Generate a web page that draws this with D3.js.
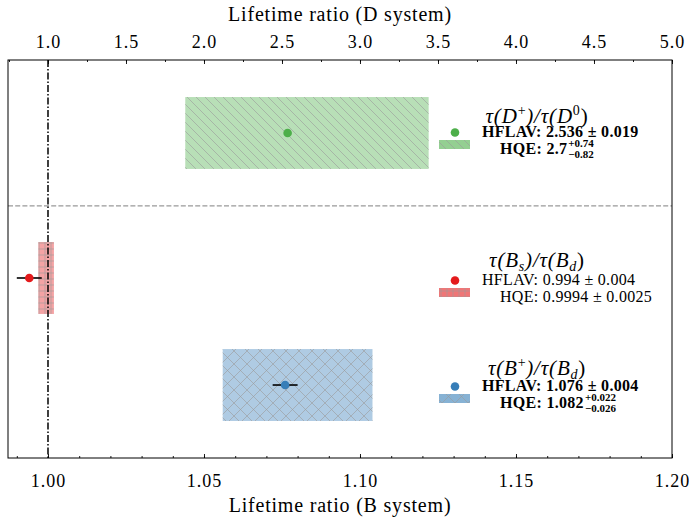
<!DOCTYPE html>
<html>
<head>
<meta charset="utf-8">
<script src="https://cdn.jsdelivr.net/npm/d3@7"></script>
<style>
body { margin: 0; background: #fff; }
svg { font-family: "Liberation Serif", serif; }
</style>
</head>
<body>
<svg id="chart" width="689" height="519"></svg>
<script>
// data (B+, Bs, D)
var groups = ["Bp", "Bs", "D"];
var hflavVal = [1.076, 0.994, 2.536];
var hflavErr = [0.004, 0.004, 0.019];
var hqeVal = [1.082, 0.9994, 2.7];
var hqeUp = [0.022, 0.0025, 0.74];
var hqeDown = [0.026, 0.0025, 0.82];
var hflavText = ["1.076 \u00b1 0.004", "0.994 \u00b1 0.004", "2.536 \u00b1 0.019"];
var hqeText = ["1.082", "0.9994 \u00b1 0.0025", "2.7"];
var hqeSup = ["+0.022", "", "+0.74"];
var hqeSub = ["\u22120.026", "", "\u22120.82"];
var bTicks = [1.00, 1.05, 1.10, 1.15, 1.20];
var dTicks = [1.0, 1.5, 2.0, 2.5, 3.0, 3.5, 4.0, 4.5, 5.0];

var colors = ["#377eb8", "#e41a1c", "#4daf4a"];
var hatch = ["cross", "plus", "back"];
var bold = [true, false, true];

var L = 8, R = 672, T = 60, B = 458;
var svg = d3.select("#chart");

var xB = d3.scaleLinear().domain([0.98718, 1.2]).range([L, R]);
// top axis is the bottom one stretched by 20 around 1
var xD = d3.scaleLinear().domain(xB.domain().map(function(v){ return 1 + (v - 1) * 20; })).range([L, R]);
var y = d3.scaleLinear().domain([-0.682, 3.037]).range([B, T]);
var rowPos = [0, 1, 2.355];
var halfH = 0.336;

function xs(i){ return i == 2 ? xD : xB; }

// hatch patterns
var defs = svg.append("defs");
function pat(id, size, paths){
    var p = defs.append("pattern").attr("id", id)
    .attr("patternUnits", "userSpaceOnUse")
    .attr("width", size).attr("height", size);
    paths.forEach(function(d){
        p.append("path").attr("d", d)
        .attr("stroke", "#9a9a9a").attr("stroke-width", 0.8)
        .attr("stroke-opacity", 0.75).attr("fill", "none");
    });
}
pat("back", 9, ["M0,0L9,9", "M-1,8L1,10", "M8,-1L10,1"]);
pat("plus", 6, ["M0,3H6", "M3,0V6"]);
pat("cross", 13, ["M0,0L13,13", "M0,13L13,0"]);

var plot = svg.append("g");

// HQE bands
groups.forEach(function(g, i){
    var x = xs(i);
    var x0 = x(hqeVal[i] - hqeDown[i]), x1 = x(hqeVal[i] + hqeUp[i]);
    var y0 = y(rowPos[i] + halfH), y1 = y(rowPos[i] - halfH);
    plot.append("rect").attr("x", x0).attr("y", y0)
    .attr("width", x1 - x0).attr("height", y1 - y0)
    .attr("fill", colors[i]).attr("fill-opacity", 0.4);
    plot.append("rect").attr("x", x0).attr("y", y0)
    .attr("width", x1 - x0).attr("height", y1 - y0)
    .attr("fill", "url(#" + hatch[i] + ")");
});

// separator and 1.0 reference line
plot.append("line").attr("x1", L).attr("x2", R)
.attr("y1", y(1.673)).attr("y2", y(1.673))
.attr("stroke", "#999").attr("stroke-width", 1.2)
.attr("stroke-dasharray", "5,2.2");
plot.append("line").attr("x1", xB(1)).attr("x2", xB(1))
.attr("y1", T).attr("y2", B)
.attr("stroke", "#000").attr("stroke-width", 1.5)
.attr("stroke-dasharray", "7,2,1.5,2");

// HFLAV points
groups.forEach(function(g, i){
    var x = xs(i), cy = y(rowPos[i]);
    plot.append("line")
    .attr("x1", x(hflavVal[i] - hflavErr[i])).attr("x2", x(hflavVal[i] + hflavErr[i]))
    .attr("y1", cy).attr("y2", cy)
    .attr("stroke", "#000").attr("stroke-width", 1.6);
    plot.append("circle").attr("cx", x(hflavVal[i])).attr("cy", cy)
    .attr("r", 4.3).attr("fill", colors[i]);
});

// frame
svg.append("rect").attr("x", L).attr("y", T).attr("width", R - L).attr("height", B - T)
.attr("fill", "none").attr("stroke", "#000").attr("stroke-width", 1);

// axes, ticks pointing inward
var bottomMin = svg.append("g").attr("transform", "translate(0," + B + ")")
.call(d3.axisBottom(xB).tickValues(d3.range(0.99, 1.2001, 0.01)).tickSize(-2).tickFormat(""));
bottomMin.select(".domain").remove();
var bottomMaj = svg.append("g").attr("transform", "translate(0," + B + ")")
.call(d3.axisBottom(xB).tickValues(bTicks).tickSize(-4).tickPadding(16).tickFormat(d3.format(".2f")));
bottomMaj.select(".domain").remove();

var topMin = svg.append("g").attr("transform", "translate(0," + T + ")")
.call(d3.axisTop(xD).tickValues(d3.range(0.75, 5.001, 0.25)).tickSize(-2).tickFormat(""));
topMin.select(".domain").remove();
var topMaj = svg.append("g").attr("transform", "translate(0," + T + ")")
.call(d3.axisTop(xD).tickValues(dTicks).tickSize(-4).tickPadding(12).tickFormat(d3.format(".1f")));
topMaj.select(".domain").remove();

svg.selectAll(".tick line").attr("stroke-width", 0.9);
svg.selectAll(".tick text").attr("font-family", "Liberation Serif").attr("font-size", 18)
.attr("letter-spacing", 1).attr("fill", "#000");

svg.append("text").attr("x", 340).attr("y", 21).attr("text-anchor", "middle")
.attr("font-size", 20).attr("letter-spacing", 0.8).text("Lifetime ratio (D system)");
svg.append("text").attr("x", 340).attr("y", 512).attr("text-anchor", "middle")
.attr("font-size", 20).attr("letter-spacing", 0.8).text("Lifetime ratio (B system)");

// legends
var legY = [391, 285, 137];
var titleY = [375, 267, 123];
// pieces of each title: text, style (i = italic, r = roman, sup, sub)
var titles = [
    [["\u03c4(", "i"], ["B", "i"], ["+", "sup"], [")/\u03c4(", "i"], ["B", "i"], ["d", "sub"], [")", "r"]],
    [["\u03c4(", "i"], ["B", "i"], ["s", "sub"], [")/\u03c4(", "i"], ["B", "i"], ["d", "sub"], [")", "r"]],
    [["\u03c4(", "i"], ["D", "i"], ["+", "sup"], [")/\u03c4(", "i"], ["D", "i"], ["0", "sup"], [")", "r"]]
];

groups.forEach(function(g, i){
    var lg = svg.append("g").attr("font-weight", bold[i] ? "bold" : "normal");
    var ty = legY[i];
    var t = lg.append("text").attr("x", 537).attr("y", titleY[i])
    .attr("text-anchor", "middle").attr("font-size", 21).attr("letter-spacing", 0.8)
    .attr("font-weight", "normal");
    var shift = 0;
    titles[i].forEach(function(p){
        var s = t.append("tspan").text(p[0]);
        var target = 0;
        if (p[1] == "sup") { s.attr("font-size", 14); target = -8; }
        else if (p[1] == "sub") { s.attr("font-size", 14).attr("font-style", "italic"); target = 4; }
        else if (p[1] == "i") s.attr("font-style", "italic");
        if (target != shift) { s.attr("dy", target - shift); shift = target; }
    });

    lg.append("circle").attr("cx", 455).attr("cy", ty - 4.5).attr("r", 4.3).attr("fill", colors[i]);
    lg.append("text").attr("x", 482).attr("y", ty).attr("font-size", 16).attr("letter-spacing", 0.3)
    .text("HFLAV: " + hflavText[i]);

    var py = ty + 17;
    lg.append("rect").attr("x", 439).attr("y", py - 14).attr("width", 31).attr("height", 9)
    .attr("fill", colors[i]).attr("fill-opacity", 0.6);
    lg.append("rect").attr("x", 439).attr("y", py - 14).attr("width", 31).attr("height", 9)
    .attr("fill", "url(#" + hatch[i] + ")");
    var ht = lg.append("text").attr("x", 500).attr("y", py).attr("font-size", 16).attr("letter-spacing", 0.3)
    .text("HQE: " + hqeText[i]);
    if (hqeSup[i]) {
        var w = ht.node().getBBox().width;
        lg.append("text").attr("x", 501 + w).attr("y", py - 7).attr("font-size", 11).text(hqeSup[i]);
        lg.append("text").attr("x", 501 + w).attr("y", py + 4).attr("font-size", 11).text(hqeSub[i]);
    }
});
</script>
</body>
</html>
